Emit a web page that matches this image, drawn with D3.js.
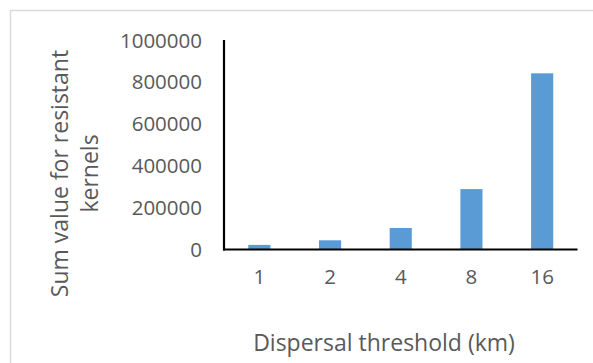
<!DOCTYPE html>
<html>
<head>
<meta charset="utf-8">
<script src="https://cdn.jsdelivr.net/npm/d3@7"></script>
<style>
  html, body { margin: 0; padding: 0; background: #fff; }
  svg { display: block; }
  text { font-family: "Open Sans", "Noto Sans", sans-serif; fill: #595959; }
</style>
</head>
<body>
<svg id="chart" width="593" height="363"></svg>
<script>
const categories = ["1", "2", "4", "8", "16"];
const values = [22000, 44000, 103000, 289000, 843000];
const yTicks = [0, 200000, 400000, 600000, 800000, 1000000];
const xTitle = "Dispersal threshold (km)";
const yTitleLines = ["Sum value for resistant", "kernels"];

const svg = d3.select("#chart");
const W = 593, H = 363;

// outer chart border (extends past the visible area)
svg.append("rect")
  .attr("x", 10.5).attr("y", 10.5)
  .attr("width", W + 20).attr("height", H + 20)
  .attr("fill", "none").attr("stroke", "#d9d9d9").attr("stroke-width", 1.5);

const plot = { left: 224, right: 577.5, top: 40.5, bottom: 249.5 };

const x = d3.scaleBand().domain(categories)
  .range([plot.left, plot.right])
  .paddingInner(0.687).paddingOuter(0.3435);

const y = d3.scaleLinear().domain([0, 1000000]).range([plot.bottom, plot.top]);

// bars
svg.append("g").selectAll("rect").data(categories).join("rect")
  .attr("x", d => x(d))
  .attr("y", (d, i) => y(values[i]))
  .attr("width", x.bandwidth())
  .attr("height", (d, i) => y(0) - y(values[i]))
  .attr("fill", "#5b9bd5");

// y axis labels
const yAxis = d3.axisLeft(y).tickValues(yTicks).tickSize(0).tickPadding(22).tickFormat(d3.format("d"));
const gy = svg.append("g").attr("transform", `translate(${plot.left},0)`).call(yAxis);
gy.select(".domain").remove();
gy.selectAll("text").attr("font-size", 20.5).attr("font-family", "Open Sans").attr("fill", "#595959");

// x axis labels
const xAxis = d3.axisBottom(x).tickSize(0).tickPadding(20);
const gx = svg.append("g").attr("transform", `translate(0,${plot.bottom})`).call(xAxis);
gx.select(".domain").remove();
gx.selectAll("text").attr("font-size", 20.5).attr("font-family", "Open Sans").attr("fill", "#595959");

// axis lines
svg.append("line")
  .attr("x1", plot.left).attr("x2", plot.left)
  .attr("y1", plot.top - 0.5).attr("y2", plot.bottom + 1)
  .attr("stroke", "#000").attr("stroke-width", 2.2);
svg.append("line")
  .attr("x1", plot.left - 1).attr("x2", plot.right)
  .attr("y1", plot.bottom).attr("y2", plot.bottom)
  .attr("stroke", "#000").attr("stroke-width", 2.2);

// x title
svg.append("text")
  .attr("x", 384).attr("y", 351)
  .attr("text-anchor", "middle")
  .attr("font-size", 23)
  .text(xTitle);

// y title (two lines, rotated)
const yt = svg.append("text")
  .attr("transform", "rotate(-90)")
  .attr("text-anchor", "middle")
  .attr("font-size", 23);
yTitleLines.forEach((line, i) => {
  yt.append("tspan")
    .attr("x", -173.5)
    .attr("y", 68 + i * 30)
    .text(line);
});
</script>
</body>
</html>
